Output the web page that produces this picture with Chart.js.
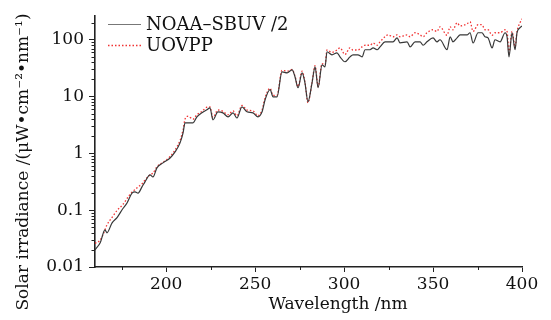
<!DOCTYPE html>
<html>
<head>
<meta charset="utf-8">
<script src="https://cdn.jsdelivr.net/npm/chart.js@4/dist/chart.umd.min.js"></script>
<style>
html,body{margin:0;padding:0;background:#fff;}
#wrap{width:551px;height:320px;position:relative;}
</style>
</head>
<body>
<div id="wrap"><canvas id="c" width="551" height="320"></canvas></div>
<script>
const wavelengths = [160,163,165.6,166.7,169.6,172.5,175.5,178,180.8,182.5,184.2,186.4,188.1,190.9,192.6,194.8,198.2,202.2,205,207.8,209.5,210.6,212.3,215.1,217.3,220.1,222.9,224.6,226.3,229.1,231.9,234.8,237.6,239.8,242.6,245.4,248.8,251.6,253.9,255.6,258.4,260.1,262.3,265.1,268,270.8,272.4,274.1,276.4,278,279.7,282,283.7,285.4,287.6,289.3,290.4,293.2,296,297.7,300.5,303.3,305,307.8,310.1,311.8,314.6,316.3,318.5,320.2,323,324.7,327.5,329.8,331.4,335.4,337.1,339.9,342.7,344.4,346.6,350,352.2,353.9,357.9,359.6,361.2,363.5,365.2,369.1,370.8,372.5,375.3,377.5,379.2,380.9,383.2,384.8,387.7,390.5,391.6,392.7,394.4,396.1,397.2,398.9,400];

const noaa = [0.020,0.027,0.045,0.040,0.060,0.075,0.105,0.134,0.20,0.21,0.20,0.257,0.315,0.418,0.385,0.555,0.68,0.83,1.06,1.53,2.3,3.45,3.45,3.45,4.4,5.17,5.84,6.34,3.89,5.38,5.17,4.4,5.17,4.2,6.6,5.4,5.17,4.4,5.4,8.8,13.2,9.9,9.9,27.3,26.2,29.6,22.3,14.3,26.2,17.5,8.1,17.5,33.4,14.3,36.2,33.4,61.5,54.4,59,50,41,50,54.4,54.4,50,66.7,66.7,72,66.7,75,92,92,92,108,88.5,92,75,92,92,80,92,108,92,100,66.7,113,92,108,122,122,133,88,133,133,113,108,72,100,92,133,113,50,133,66.7,133,163,175];

const uovpp = [0.026,0.030,0.045,0.055,0.075,0.10,0.124,0.16,0.21,0.23,0.257,0.29,0.34,0.42,0.45,0.58,0.70,0.88,1.15,1.7,2.6,4.0,4.5,4.0,4.8,5.5,6.5,6.6,4.3,5.8,5.5,4.8,5.6,4.6,7.0,5.8,5.6,4.6,5.8,9.5,14,10.5,10.5,29,28,30,23,15,28,18,7.8,18,35,15,38,36,66,60,66,72,55,72,66,66,75,80,80,88,80,92,113,122,113,122,113,122,113,133,122,113,133,150,140,169,120,169,150,199,175,190,208,140,184,184,150,150,120,133,133,150,140,59,140,75,140,200,235];

const seriesNames = ['NOAA\u2013SBUV /2', 'UOVPP'];
const xTickValues = [200,250,300,350,400];
const xMinorValues = [175,225,275,325,375];
const yTickValues = [0.01,0.1,1,10,100];
const xTitle = 'Wavelength /nm';
const yTitle = 'Solar irradiance /(\u03bcW\u2022cm\u207b\u00b2\u2022nm\u207b\u00b9)';

const FONT = 'DejaVu Serif';
const AXIS = '#222';
const GRAY = '#383838';
const RED = 'rgba(240,40,40,0.95)';

const extras = {
  id: 'extras',
  afterDraw(chart) {
    const ctx = chart.ctx;
    const xs = chart.scales.x, ys = chart.scales.y;
    const area = chart.chartArea;
    ctx.save();
    ctx.strokeStyle = AXIS;
    ctx.lineWidth = 1;
    for (let e = -2; e <= 2; e++) {
      for (let m = 2; m <= 9; m++) {
        const v = m * Math.pow(10, e);
        if (v > ys.max) continue;
        const py = Math.round(ys.getPixelForValue(v)) + 0.5;
        ctx.beginPath();
        ctx.moveTo(area.left - 3.5, py);
        ctx.lineTo(area.left, py);
        ctx.stroke();
      }
    }
    xMinorValues.forEach(v => {
      const px = Math.round(xs.getPixelForValue(v)) + 0.5;
      ctx.beginPath();
      ctx.moveTo(px, area.bottom);
      ctx.lineTo(px, area.bottom + 3);
      ctx.stroke();
    });
    ctx.fillStyle = '#111';
    ctx.font = '17px "' + FONT + '"';
    ctx.textAlign = 'center';
    ctx.textBaseline = 'middle';
    ctx.fillText(xTitle, 338, 305);
    ctx.save();
    ctx.translate(24, 162);
    ctx.rotate(-Math.PI / 2);
    ctx.fillText(yTitle, 0, 0);
    ctx.restore();
    const legendY = [24, 45];
    ctx.textAlign = 'left';
    ctx.font = '18px "' + FONT + '"';
    chart.data.datasets.forEach((ds, i) => {
      ctx.save();
      ctx.strokeStyle = i === 0 ? '#777' : ds.borderColor;
      ctx.lineWidth = ds.borderWidth;
      ctx.setLineDash(ds.borderDash || []);
      ctx.beginPath();
      ctx.moveTo(108, legendY[i] + 0.5);
      ctx.lineTo(141, legendY[i] + 0.5);
      ctx.stroke();
      ctx.restore();
      ctx.fillText(ds.label, 146, legendY[i] + 1);
    });
    ctx.restore();
  }
};

new Chart(document.getElementById('c'), {
  type: 'line',
  data: {
    datasets: [
      {
        label: seriesNames[0],
        data: wavelengths.map((w, i) => ({x: w, y: noaa[i]})),
        borderColor: GRAY,
        borderWidth: 1.2,
        pointRadius: 0,
        cubicInterpolationMode: 'monotone',
        fill: false
      },
      {
        label: seriesNames[1],
        data: wavelengths.map((w, i) => ({x: w, y: uovpp[i]})),
        borderColor: RED,
        borderWidth: 1.3,
        borderDash: [1.5, 2],
        pointRadius: 0,
        cubicInterpolationMode: 'monotone',
        fill: false
      }
    ]
  },
  options: {
    responsive: false,
    animation: false,
    layout: { padding: { top: 16, right: 29, left: 0, bottom: 0 } },
    plugins: { legend: { display: false }, tooltip: { enabled: false } },
    scales: {
      x: {
        type: 'linear',
        min: 160,
        max: 400,
        afterBuildTicks: s => { s.ticks = xTickValues.map(v => ({value: v})); },
        afterFit: s => { s.height = 53; },
        grid: { drawOnChartArea: false, drawTicks: true, tickLength: 5, tickColor: AXIS, tickWidth: 1 },
        border: { display: true, color: AXIS, width: 1.6 },
        ticks: { color: '#111', font: { family: FONT, size: 17 }, padding: 2, maxRotation: 0,
                 callback: v => String(v) }
      },
      y: {
        type: 'logarithmic',
        min: 0.01,
        max: 262,
        afterBuildTicks: s => { s.ticks = yTickValues.map(v => ({value: v})); },
        afterFit: s => { s.width = 95; },
        grid: { drawOnChartArea: false, drawTicks: true, tickLength: 6, tickColor: AXIS, tickWidth: 1 },
        border: { display: true, color: AXIS, width: 1.6 },
        ticks: { color: '#111', font: { family: FONT, size: 17 }, padding: 5,
                 callback: v => String(v) }
      }
    }
  },
  plugins: [extras]
});
</script>
</body>
</html>
